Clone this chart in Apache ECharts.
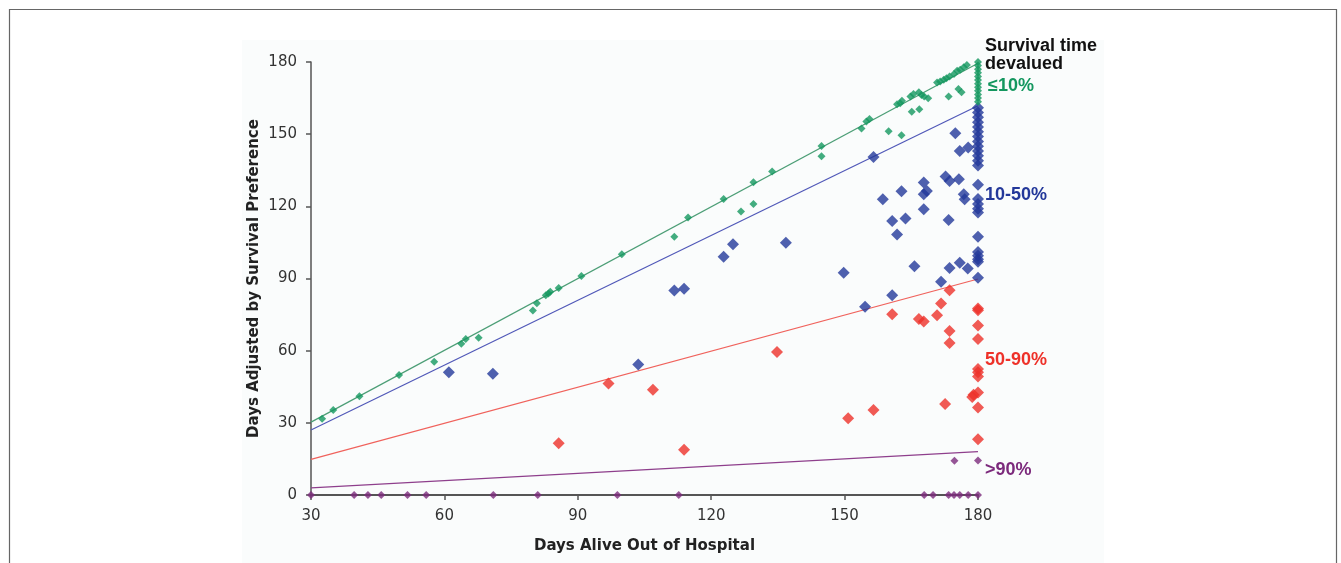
<!DOCTYPE html>
<html>
<head>
<meta charset="utf-8">
<script src="https://cdn.jsdelivr.net/npm/echarts@6/dist/echarts.min.js"></script>
<style>
  html, body { margin: 0; padding: 0; background: #fff; }
  #chart { width: 1341px; height: 563px; }
</style>
</head>
<body>
<div id="chart"></div>
<script>
// axis ticks
const xTicks = [30, 60, 90, 120, 150, 180]
const yTicks = [0, 30, 60, 90, 120, 150, 180]

// survival time devalued <=10%
const greenPts = [
  [32.5, 31.7], [35, 35.3], [40.9, 41], [49.8, 49.9], [57.7, 55.4], [63.8, 62.9], [64.8, 64.9],
  [67.7, 65.4], [79.9, 76.7], [80.8, 79.7], [82.8, 83], [83.4, 83.8], [83.8, 84.5], [85.7, 86.1],
  [90.8, 91], [99.9, 100.1], [111.7, 107.4], [114.8, 115.4], [122.8, 123], [126.7, 117.9],
  [129.5, 130], [129.5, 121], [133.7, 134.5], [144.8, 145.1], [144.8, 140.8], [153.8, 152.4],
  [154.9, 155.3], [155.6, 156.3], [159.9, 151.2], [162.8, 149.6], [161.8, 162.4], [162.5, 162.9],
  [162.9, 163.9], [165.1, 159.3], [166.8, 160.4], [164.8, 165.7], [165.5, 166.7], [166.7, 167.4],
  [167.3, 166.3], [167.9, 165.7], [168.8, 164.9], [170.8, 171.5], [171.5, 171.9], [172.3, 172.6],
  [172.9, 173.2], [173.6, 174], [173.4, 165.7], [175.6, 168.8], [176.3, 167.4], [174.6, 175],
  [175.3, 176.4], [176, 176.8], [176.8, 177.8], [177.5, 178.8],
  [180, 180], [180, 178.5], [180, 177], [180, 175.5], [180, 174], [180, 172.5], [180, 171],
  [180, 169.5], [180, 168], [180, 166.5], [180, 165], [180, 163.5]
]
const greenTrend = [[30, 30.3], [180, 179.5]]

// 10-50%
const bluePts = [
  [61, 51], [70.9, 50.4], [103.6, 54.2], [111.7, 85], [113.9, 85.7], [122.8, 99], [124.9, 104.2],
  [136.8, 104.9], [149.8, 92.4], [154.6, 78.3], [156.5, 140.5], [158.6, 122.9], [160.7, 113.9],
  [160.7, 83], [161.8, 108.3], [162.8, 126.3], [163.7, 114.9], [165.7, 95.1], [167.8, 129.9],
  [168.5, 126.4], [167.8, 125], [167.8, 118.8], [171.7, 88.6], [172.7, 132.4], [173.6, 130.5],
  [173.4, 114.3], [173.6, 94.4], [174.9, 150.4], [175.7, 131.3], [175.9, 143], [175.9, 96.5],
  [176.8, 125], [177, 122.9], [177.8, 144.5], [177.7, 94.2],
  [180, 161], [180, 159], [180, 157], [180, 155], [180, 153], [180, 151], [180, 149], [180, 147],
  [180, 145], [180, 143], [180, 141], [180, 139], [180, 137], [180, 129], [180, 123], [180, 121],
  [180, 119], [180, 117.4], [180, 107.4], [180, 101], [180, 99.5], [180, 98], [180, 97], [180, 90.3]
]
const blueTrend = [[30, 27], [180, 161.8]]

// 50-90%
const redPts = [
  [85.7, 21.5], [96.9, 46.3], [106.9, 43.8], [113.9, 18.8], [134.8, 59.4], [150.8, 31.9],
  [156.5, 35.3], [160.7, 75.1], [166.7, 73.2], [167.8, 72.1], [170.8, 74.7], [171.7, 79.6],
  [172.6, 37.8], [173.6, 85.1], [173.6, 68.2], [173.6, 63.2], [178.7, 40.7], [179, 41.7],
  [180, 77.5], [180, 76.8], [180, 70.5], [180, 64.9], [180, 52.4], [180, 51], [180, 49.3],
  [180, 42.6], [180, 36.4], [180, 23.2]
]
const redTrend = [[30, 14.8], [180, 89.8]]

// >90%
const purplePts = [
  [30, 0], [39.7, 0], [42.8, 0], [45.8, 0], [51.7, 0], [55.9, 0], [71, 0], [81, 0], [98.9, 0],
  [112.7, 0], [167.9, 0], [169.9, 0], [173.4, 0], [174.6, 0], [175.9, 0], [177.8, 0], [180, 0],
  [174.7, 14.2], [180, 14.3]
]
const purpleTrend = [[30, 3], [180, 18]]

const GREEN = '#14975f', BLUE = '#23389a', RED = '#ee3129', PURPLE = '#7c2a7c'

function dots(data, color, size) {
  return {
    type: 'scatter', data: data, symbol: 'diamond', symbolSize: size, clip: false,
    itemStyle: { color: color }, z: 3
  }
}
function trend(data, color) {
  return {
    type: 'line', data: data, symbol: 'none', silent: true, z: 2,
    lineStyle: { color: color, width: 1.2 }
  }
}

const chart = echarts.init(document.getElementById('chart'))
const tickFont = { fontFamily: 'DejaVu Sans', fontSize: 15, color: '#333' }
const labelFont = 'bold 18px "Liberation Sans", Arial, sans-serif'
const titleStyle = { fontFamily: 'DejaVu Sans', fontSize: 15, fontWeight: 'bold', color: '#222' }

chart.setOption({
  animation: false,
  backgroundColor: '#fff',
  grid: { left: 311, right: 363, top: 62, bottom: 68 },
  xAxis: {
    type: 'value', min: 30, max: 180, interval: 30,
    name: 'Days Alive Out of Hospital', nameLocation: 'middle', nameGap: 44,
    nameTextStyle: titleStyle,
    axisLine: { lineStyle: { color: '#555', width: 2 } },
    axisTick: { show: true, length: 5, lineStyle: { color: '#555', width: 1.5 } },
    axisLabel: Object.assign({ margin: 14, formatter: v => xTicks.includes(v) ? String(v) : '' }, tickFont),
    splitLine: { show: false }
  },
  yAxis: {
    type: 'value', min: 0, max: 180, interval: 30,
    name: 'Days Adjusted by Survival Preference', nameLocation: 'middle', nameGap: 49,
    nameTextStyle: titleStyle,
    axisLine: { show: true, lineStyle: { color: '#555', width: 1.5 } },
    axisTick: { show: true, length: 5, lineStyle: { color: '#555', width: 1.5 } },
    axisLabel: Object.assign({ margin: 14, formatter: v => yTicks.includes(v) ? String(v) : '' }, tickFont),
    splitLine: { show: false }
  },
  graphic: [
    { type: 'rect', silent: true, z: -10, shape: { x: 242, y: 40, width: 862, height: 530 },
      style: { fill: '#fafcfc' } },
    { type: 'rect', silent: true, z: -5, shape: { x: 9.5, y: 9.5, width: 1327, height: 600 },
      style: { fill: 'none', stroke: '#666', lineWidth: 1.2 } },
    { type: 'text', left: 985, top: 37, z: 10,
      style: { text: 'Survival time\ndevalued', font: labelFont, fill: '#111', lineHeight: 18 } },
    { type: 'rect', silent: true, z: 11, shape: { x: 1104, y: 30, width: 60, height: 30 },
      style: { fill: '#fff' } },
    { type: 'text', left: 988, top: 77, z: 10, style: { text: '≤10%', font: labelFont, fill: GREEN } },
    { type: 'text', left: 985, top: 186, z: 10, style: { text: '10-50%', font: labelFont, fill: BLUE } },
    { type: 'text', left: 985, top: 351, z: 10, style: { text: '50-90%', font: labelFont, fill: RED } },
    { type: 'text', left: 985, top: 461, z: 10, style: { text: '>90%', font: labelFont, fill: PURPLE } }
  ],
  series: [
    trend(greenTrend, '#4c9e76'),
    trend(blueTrend, '#5058b8'),
    trend(redTrend, '#f0625c'),
    trend(purpleTrend, '#8e3f8c'),
    dots(purplePts, PURPLE, 8),
    dots(redPts, RED, 12),
    dots(bluePts, BLUE, 12),
    dots(greenPts, GREEN, 8)
  ]
})
</script>
</body>
</html>
